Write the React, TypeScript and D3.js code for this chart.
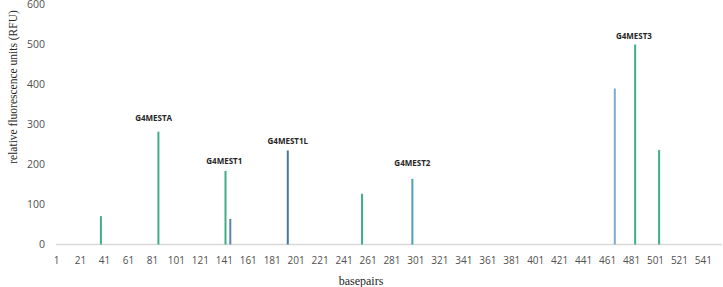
import React, { useRef, useEffect } from 'react';
import * as d3 from 'd3';

// basepair categories 1..556, labelled every 20
const basepairs = d3.range(1, 557);
const xTickLabels = d3.range(1, 557, 20);
const yTickLabels = [0, 100, 200, 300, 400, 500, 600];

// peaks per series: [basepair, RFU]
const greenPeaks = [[38, 71], [86, 282], [142, 184], [256, 127], [484, 500], [504, 236]];
const steelPeaks = [[146, 64]];
const darkPeaks = [[194, 235]];
const tealPeaks = [[298, 164]];
const skyPeaks = [[467, 390]];

const seriesNames = ['green', 'steel', 'dark', 'teal', 'sky'];
const seriesData = [greenPeaks, steelPeaks, darkPeaks, tealPeaks, skyPeaks];

// label text, basepair, RFU at label centre
const annoLabels = ['G4MESTA', 'G4MEST1', 'G4MEST1L', 'G4MEST2', 'G4MEST3'];
const annoBp = [82, 141, 194, 298, 483];
const annoRfu = [316, 209, 259, 204, 521];

const colors = {
    green: '#3fae88',
    steel: '#5f85ad',
    dark: '#44779a',
    teal: '#4aa0bd',
    sky: '#80a8cf',
};

const App = () => {
    const svgRef = useRef(null);

    useEffect(() => {
        const svg = d3.select(svgRef.current);
        svg.selectAll('*').remove();

        const x = d3.scaleBand()
            .domain(basepairs.map(String))
            .range([56, 722]);

        const y = d3.scaleLinear()
            .domain([0, 600])
            .range([244.5, 4.5]);

        const cx = (bp) => x(String(bp)) + x.bandwidth() / 2;

        // baseline
        svg.append('line')
            .attr('x1', 56).attr('x2', 722)
            .attr('y1', y(0)).attr('y2', y(0))
            .attr('stroke', '#d9d9d9')
            .attr('stroke-width', 1.5);

        // y tick labels
        svg.append('g')
            .selectAll('text')
            .data(yTickLabels)
            .enter()
            .append('text')
            .attr('x', 45)
            .attr('y', (d) => y(d))
            .attr('dy', '0.35em')
            .attr('text-anchor', 'end')
            .attr('font-family', 'Open Sans, sans-serif')
            .attr('font-size', 10.5)
            .attr('fill', '#505050')
            .text((d) => d);

        // x tick labels
        svg.append('g')
            .selectAll('text')
            .data(xTickLabels)
            .enter()
            .append('text')
            .attr('x', (d) => cx(d))
            .attr('y', 260)
            .attr('dy', '0.35em')
            .attr('text-anchor', 'middle')
            .attr('font-family', 'Open Sans, sans-serif')
            .attr('font-size', 10)
            .attr('fill', '#505050')
            .text((d) => d);

        // peaks
        seriesNames.forEach((name, i) => {
            svg.append('g')
                .selectAll('line')
                .data(seriesData[i])
                .enter()
                .append('line')
                .attr('x1', (d) => cx(d[0]))
                .attr('x2', (d) => cx(d[0]))
                .attr('y1', y(0))
                .attr('y2', (d) => y(d[1]))
                .attr('stroke', colors[name])
                .attr('stroke-width', 2);
        });

        // annotations
        svg.append('g')
            .selectAll('text')
            .data(annoLabels)
            .enter()
            .append('text')
            .attr('x', (d, i) => cx(annoBp[i]))
            .attr('y', (d, i) => y(annoRfu[i]))
            .attr('dy', '0.35em')
            .attr('text-anchor', 'middle')
            .attr('font-family', 'Open Sans, sans-serif')
            .attr('font-weight', 'bold')
            .attr('font-size', 8)
            .attr('fill', '#262626')
            .text((d) => d);

        // axis titles
        svg.append('text')
            .attr('transform', 'translate(13, 87) rotate(-90)')
            .attr('dy', '0.35em')
            .attr('text-anchor', 'middle')
            .attr('font-family', 'Liberation Serif, serif')
            .attr('font-size', 11.5)
            .attr('fill', '#262626')
            .text('relative fluorescence units (RFU)');

        svg.append('text')
            .attr('x', 361)
            .attr('y', 281)
            .attr('dy', '0.35em')
            .attr('text-anchor', 'middle')
            .attr('font-family', 'Liberation Serif, serif')
            .attr('font-size', 12)
            .attr('fill', '#262626')
            .text('basepairs');
    }, []);

    return (
        <svg
            ref={svgRef}
            width={723}
            height={287}
            style={{ position: 'absolute', left: 0, top: 0, background: '#fff' }}
        />
    );
};

export default App;
